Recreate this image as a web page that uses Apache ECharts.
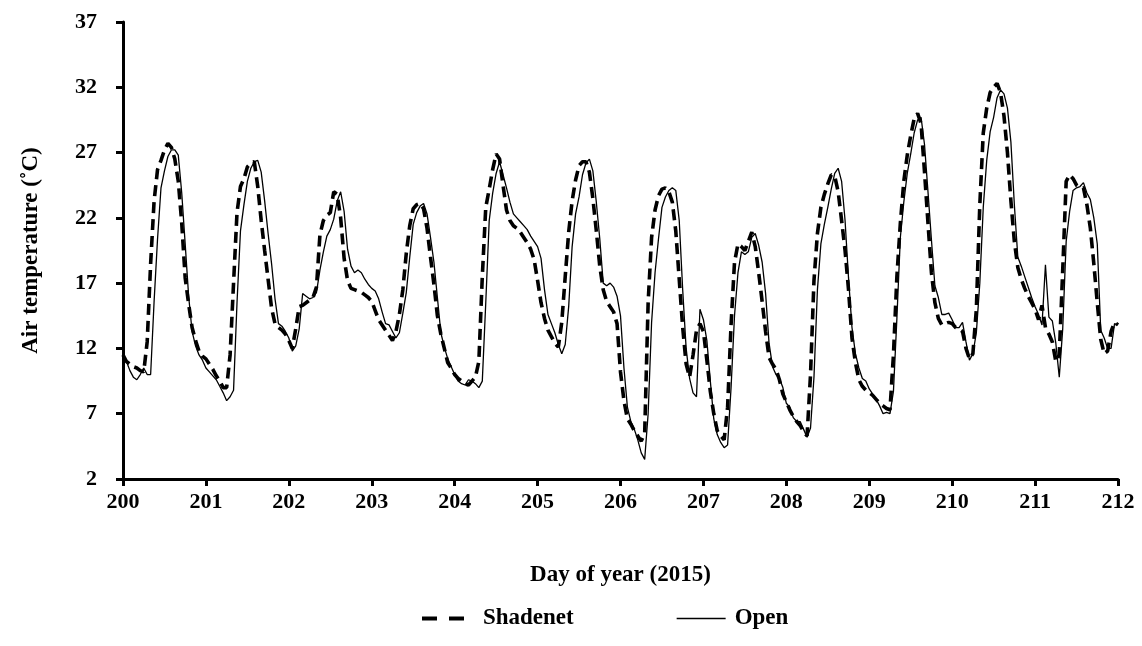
<!DOCTYPE html>
<html><head><meta charset="utf-8">
<script src="https://cdn.jsdelivr.net/npm/echarts@6/dist/echarts.min.js"></script>
<style>html,body{margin:0;padding:0;background:#fff}#c{width:1142px;height:646px}</style>
</head><body><div id="c"></div>
<script>
// hourly readings, day 200 00:00 to day 212 00:00
const startDay = 200;
const stepsPerDay = 24;
const seriesNames = ['Shadenet', 'Open'];
const shadenet = [
  11.5,11.0,10.8,10.6,10.5,10.3,10.2,12.5,18.5,23.3,25.7,26.4,27.2,27.7,27.4,26.5,24.8,21.6,17.4,15.4,13.6,12.6,11.8,11.4,
  11.2,10.8,10.4,9.9,9.5,9.0,9.0,11.5,17.0,22.4,24.4,25.0,25.9,26.2,26.3,24.4,21.8,19.5,17.3,15.1,13.9,13.6,13.4,13.1,
  12.6,12.0,13.5,15.2,15.3,15.5,15.7,15.9,16.7,20.7,21.8,22.2,22.4,24.0,23.8,22.0,18.9,17.2,16.6,16.5,16.4,16.3,16.1,15.9,
  15.6,14.9,14.2,13.8,13.4,13.0,12.6,13.3,14.6,16.5,19.3,21.4,22.7,23.0,23.1,22.7,21.2,19.0,16.9,14.5,13.1,12.0,10.9,10.5,
  10.0,9.7,9.5,9.3,9.2,9.5,9.8,11.0,17.5,22.8,24.2,25.7,26.9,26.5,24.5,22.6,21.8,21.4,21.2,20.9,20.5,20.1,19.6,18.8,
  17.2,15.5,14.3,13.4,12.9,12.4,12.1,14.0,17.5,20.9,23.3,24.9,26.0,26.3,26.3,25.5,23.5,21.0,18.3,16.5,15.6,15.2,14.8,13.9,
  10.2,8.0,6.6,6.2,5.7,5.3,4.9,5.5,15.5,20.5,22.6,23.7,24.2,24.3,24.0,23.2,21.0,17.3,13.6,10.8,9.8,11.5,13.4,13.9,
  13.3,11.1,8.7,7.0,5.7,5.3,5.0,7.5,13.8,18.6,20.0,19.8,19.5,20.2,20.9,19.8,17.8,15.6,13.3,11.3,10.8,10.4,9.6,8.5,
  7.9,7.3,6.8,6.4,6.1,5.6,5.3,10.0,17.2,20.8,22.8,23.8,24.6,25.3,25.2,24.0,21.8,19.5,16.5,12.8,10.9,9.6,9.1,8.8,
  8.6,8.4,8.1,7.8,7.6,7.4,7.3,11.5,17.5,21.6,24.8,26.8,28.3,29.6,30.0,29.2,25.5,21.6,17.8,15.5,14.3,13.8,13.9,14.0,
  13.9,13.6,13.5,13.3,12.0,11.2,11.6,15.0,23.0,28.5,30.4,31.6,32.0,32.3,31.6,29.8,27.0,23.3,20.2,18.2,17.3,16.6,16.0,15.5,
  15.0,14.2,15.3,13.6,13.1,12.5,11.0,11.5,18.0,24.8,25.3,25.0,24.5,24.3,24.3,23.0,21.2,18.5,15.5,12.7,11.6,11.8,13.3,14.0,
  13.8
];
const open = [
  11.5,11.0,10.3,9.8,9.6,10.0,10.5,10.0,10.0,15.6,20.4,24.3,25.6,26.7,27.2,27.2,26.8,23.9,20.0,16.0,13.3,12.2,11.5,11.1,
  10.5,10.2,9.9,9.6,9.1,8.6,8.0,8.3,8.8,15.5,21.0,23.0,24.8,25.8,26.3,26.4,25.5,23.3,20.8,18.5,15.8,13.9,13.7,13.3,
  12.8,11.8,12.2,13.5,16.2,16.0,15.8,15.9,16.3,18.0,19.4,20.6,21.1,21.9,23.3,24.0,22.5,19.6,18.3,17.8,18.0,17.8,17.3,16.9,
  16.6,16.4,15.8,14.8,13.9,13.8,13.3,12.8,13.2,14.7,16.3,19.0,21.5,22.4,22.9,23.1,22.3,20.5,18.6,15.9,13.2,12.1,11.2,10.6,
  10.0,9.5,9.3,9.2,9.6,9.5,9.3,9.0,9.5,15.5,21.8,23.9,25.4,26.3,25.3,24.3,23.2,22.3,22.0,21.7,21.4,21.1,20.6,20.2,
  19.8,18.9,16.5,14.6,13.9,13.2,12.3,11.6,12.3,15.2,19.8,22.3,23.6,25.3,26.2,26.5,25.6,23.2,20.4,17.0,16.8,17.0,16.7,16.0,
  14.5,10.5,7.5,6.4,5.8,5.0,4.0,3.5,7.0,14.0,17.8,20.4,22.8,23.6,24.1,24.3,24.1,21.8,16.5,12.0,9.7,8.6,8.3,15.0,
  14.2,12.6,9.5,6.6,5.4,4.8,4.4,4.6,9.0,14.5,17.8,19.4,19.2,19.4,20.5,20.8,19.9,18.6,16.2,12.4,10.6,10.0,9.7,9.0,
  7.8,7.5,6.7,6.4,6.4,5.8,5.2,5.9,9.8,16.5,20.0,21.5,22.8,24.2,25.4,25.8,24.8,21.8,17.4,13.6,11.6,10.5,9.7,9.5,
  8.9,8.5,8.1,7.6,7.0,7.1,7.0,8.7,14.3,20.5,23.2,25.4,26.9,28.5,29.5,29.7,27.6,24.0,20.3,16.8,15.9,14.6,14.6,14.7,
  14.2,13.6,13.6,14.0,12.5,11.1,11.6,13.2,17.0,22.8,26.4,28.6,29.7,31.2,31.8,31.5,30.4,27.8,23.0,19.0,18.3,17.5,16.7,15.9,
  15.2,14.6,13.8,18.4,14.4,14.1,12.4,9.8,13.5,20.2,22.5,24.1,24.3,24.4,24.7,23.9,23.4,22.0,20.0,13.4,12.8,12.0,12.0,13.9,
  13.8
];
const xMin = 200, xMax = 212, xStep = 1;
const yMin = 2, yMax = 37, yStep = 5;

const FONT = '"Liberation Serif", "Times New Roman", serif';
const toPairs = arr => arr.map((v, i) => [startDay + i / stepsPerDay, v]);

const chart = echarts.init(document.getElementById('c'));
const txt = {fontFamily: FONT, fontWeight: 'bold', fontSize: 22, color: '#000'};
chart.setOption({
  animation: false,
  backgroundColor: '#fff',
  grid: {left: 123, right: 24, top: 22, bottom: 167},
  legend: [
    {data: [{name: seriesNames[0]}], left: 415, top: 602, itemWidth: 42, itemHeight: 14,
     itemStyle: {opacity: 0},
     lineStyle: {type: [15, 12], width: 4, color: '#000'},
     textStyle: Object.assign({}, txt, {fontSize: 23, padding: [0, 0, 0, 14]})},
    {data: [{name: seriesNames[1]}], left: 671, top: 602, itemWidth: 49, itemHeight: 14,
     itemStyle: {opacity: 0},
     lineStyle: {width: 1.3, color: '#000'},
     textStyle: Object.assign({}, txt, {fontSize: 23, padding: [0, 0, 0, 4]})}
  ],
  xAxis: {
    type: 'value', min: xMin, max: xMax, interval: xStep,
    name: 'Day of year (2015)', nameLocation: 'middle', nameGap: 85,
    nameTextStyle: Object.assign({}, txt, {fontSize: 23}),
    axisLine: {show: true, lineStyle: {color: '#000', width: 3}},
    axisTick: {show: true, length: 7, lineStyle: {color: '#000', width: 3}},
    axisLabel: Object.assign({}, txt, {margin: 12}),
    splitLine: {show: false}
  },
  yAxis: {
    type: 'value', min: yMin, max: yMax, interval: yStep,
    name: 'Air temperature (˚C)', nameLocation: 'middle', nameGap: 80,
    nameTextStyle: Object.assign({}, txt, {fontSize: 23}),
    axisLine: {show: true, lineStyle: {color: '#000', width: 3}},
    axisTick: {show: true, length: 7, lineStyle: {color: '#000', width: 3}},
    axisLabel: Object.assign({}, txt, {margin: 26}),
    splitLine: {show: false}
  },
  series: [
    {name: seriesNames[0], type: 'line', data: toPairs(shadenet), symbol: 'none', z: 3,
     itemStyle: {color: '#000'},
     lineStyle: {color: '#000', width: 3.6, type: [11, 6], cap: 'butt'}},
    {name: seriesNames[1], type: 'line', data: toPairs(open), symbol: 'none', z: 2,
     itemStyle: {color: '#000'},
     lineStyle: {color: '#000', width: 1.3, type: 'solid'}}
  ]
});
</script></body></html>
